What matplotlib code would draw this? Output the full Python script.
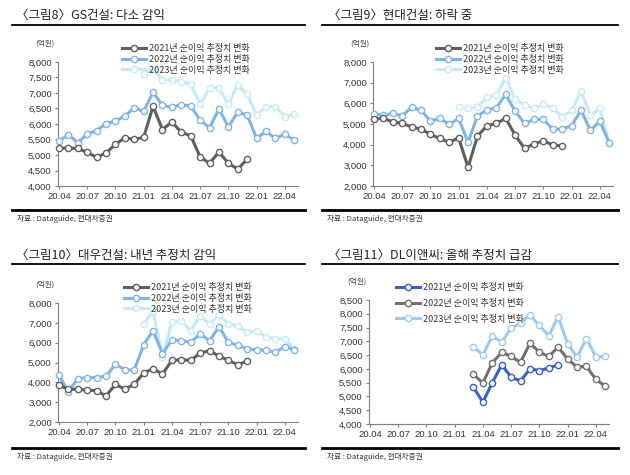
import matplotlib.pyplot as plt
import matplotlib.ticker as mticker
from matplotlib.lines import Line2D
import numpy as np

plt.rcParams['font.family'] = ['Noto Sans CJK KR', 'DejaVu Sans']

# month axis (20.04 ~ 22.05)
months = ['20.04', '20.05', '20.06', '20.07', '20.08', '20.09', '20.10', '20.11', '20.12',
          '21.01', '21.02', '21.03', '21.04', '21.05', '21.06', '21.07', '21.08', '21.09',
          '21.10', '21.11', '21.12', '22.01', '22.02', '22.03', '22.04', '22.05']
tick_months = ['20.04', '20.07', '20.10', '21.01', '21.04', '21.07', '21.10', '22.01', '22.04']
legend_labels = ['2021년 순이익 추정치 변화', '2022년 순이익 추정치 변화', '2023년 순이익 추정치 변화']

# GS건설 (억원)
gs_2021 = [5210, 5230, 5210, 5090, 4920, 5070, 5340, 5560, 5500, 5570, 6570,
           5820, 6070, 5730, 5620, 4940, 4730, 5100, 4730, 4550, 4860]          # 20.04~
gs_2022 = [5440, 5660, 5400, 5680, 5790, 6010, 6090, 6260, 6520, 6410, 7020,
           6600, 6540, 6620, 6580, 6130, 5870, 6490, 5910, 6380, 6290, 5540,
           5760, 5540, 5670, 5480]                                               # 20.04~
gs_2023 = [7600, 7800, 7420, 7420, 7365, 7280, 6640, 7170, 7170, 6640, 7260,
           6960, 6290, 6560, 6560, 6240, 6310]                                   # 21.01~

# 현대건설
hd_2021 = [5240, 5270, 5100, 5030, 4860, 4750, 4500, 4300, 4110, 4330, 2900,
           4420, 4910, 5030, 5270, 4460, 3820, 4030, 4190, 3980, 3940]          # 20.04~
hd_2022 = [5460, 5430, 5510, 5400, 5800, 5670, 5140, 5270, 4980, 5270, 4110,
           5400, 5670, 5790, 6430, 5620, 5030, 5220, 5220, 4750, 4750, 4910,
           5670, 4690, 5140, 4090]                                               # 20.04~
hd_2023 = [5800, 5750, 5800, 6310, 6400, 7230, 6230, 5910, 5750, 5950, 5780,
           5350, 5670, 6590, 5430, 5750, 4060]                                   # 21.01~

# 대우건설
dw_2021 = [3860, 3650, 3650, 3610, 3580, 3310, 3900, 3650, 3900, 4470, 4690,
           4410, 5110, 5140, 5110, 5470, 5600, 5320, 5110, 4890, 5070]          # 20.04~
dw_2022 = [4360, 3530, 4190, 4240, 4240, 4310, 4910, 4640, 4610, 5900, 6600,
           5440, 6140, 6100, 6020, 6440, 6100, 6800, 6020, 5860, 5690, 5640,
           5610, 5520, 5800, 5640]                                               # 20.04~
dw_2023 = [6940, 7600, 5300, 7020, 7100, 6600, 7350, 6940, 7400, 6940, 6850,
           6520, 6600, 6270, 6190, 6190, 5690]                                   # 21.01~

# DL이앤씨
dl_2021 = [5330, 4790, 5500, 6150, 5700, 5560, 6000, 5940, 6030, 6150]          # 21.03~
dl_2022 = [5800, 5490, 6220, 6600, 6450, 6240, 6930, 6610, 6450, 6790, 6360,
           6065, 6090, 5620, 5375]                                               # 21.03~
dl_2023 = [6800, 6510, 7190, 6975, 7480, 7660, 7960, 7580, 7200, 7890, 6920,
           6420, 7100, 6440, 6450]                                               # 21.03~

W, H = 630, 475
fig = plt.figure(figsize=(6.3, 4.75), dpi=100)


def box(l, t, r, b):
    return [l / W, 1 - b / H, (r - l) / W, (b - t) / H]


def hline(x1, x2, y, lw):
    fig.add_artist(Line2D([x1 / W, x2 / W], [1 - y / H, 1 - y / H], color='black',
                          lw=lw, transform=fig.transFigure))


def series(ax, vals, start, color, z):
    x = np.arange(len(vals)) + months.index(start)
    return ax.plot(x, vals, color=color, lw=2.2, marker='o', ms=4.5, mfc='white',
                   mec=color, mew=1.0, zorder=z, clip_on=False)[0]


def panel(rect, title, tx, ty, ylim, ystep, data, colors, leg_xy, leg_sp, unit_xy,
          line_x, line_y, src_y):
    ax = fig.add_axes(box(*rect))
    handles = []
    for (vals, start), c, z in zip(data, colors, [5, 4, 3]):
        handles.append(series(ax, vals, start, c, z))
    ax.set_xlim(-0.1, 25.4)
    ax.set_ylim(*ylim)
    ax.set_yticks(np.arange(ylim[0], ylim[1] + 1, ystep))
    ax.yaxis.set_major_formatter(mticker.StrMethodFormatter('{x:,.0f}'))
    ax.set_xticks([months.index(m) for m in tick_months])
    ax.set_xticklabels(tick_months)
    for s in ['top', 'right']:
        ax.spines[s].set_visible(False)
    for s in ['left', 'bottom']:
        ax.spines[s].set_color('#7f7f7f')
        ax.spines[s].set_linewidth(0.8)
    ax.tick_params(labelsize=6.8, length=2.5, width=0.8, color='#7f7f7f',
                   labelcolor='#333333', pad=2)
    for lab in ax.get_xticklabels() + ax.get_yticklabels():
        lab.set_fontfamily('Liberation Sans')
    ax.legend(handles, legend_labels, loc='upper left',
              bbox_to_anchor=(leg_xy[0] / W, 1 - leg_xy[1] / H),
              bbox_transform=fig.transFigure, frameon=False, fontsize=6.5,
              handlelength=2.7, handletextpad=0.3, labelspacing=leg_sp,
              borderpad=0, borderaxespad=0, labelcolor='#333333')
    fig.text(tx / W, 1 - ty / H, title, fontsize=9, va='center', ha='left', color='#222222')
    fig.text(unit_xy[0] / W, 1 - unit_xy[1] / H, '(억원)', fontsize=5.5, ha='center',
             va='center', color='#444444')
    hline(line_x[0], line_x[1], line_y, 1.3)
    hline(line_x[0], line_x[1], src_y, 2.0)
    fig.text((line_x[0] + 5) / W, 1 - (src_y + 9) / H, '자료 : Dataguide, 현대차증권',
             fontsize=5.5, ha='left', va='center', color='#333333')


gray = '#5f5f5f'
mid = '#80b4e6'
pale = '#c6ebf7'

panel((58, 62, 298, 186), '〈그림8〉GS건설: 다소 감익', 16, 15, (4000, 8000), 500,
      [(gs_2021, '20.04'), (gs_2022, '20.04'), (gs_2023, '21.01')],
      [gray, mid, pale], (122, 44), 0.2, (45, 44), (12, 305), 24.5, 210)

panel((373, 62, 613, 186), '〈그림9〉현대건설: 하락 중', 328, 15, (2000, 8000), 1000,
      [(hd_2021, '20.04'), (hd_2022, '20.04'), (hd_2023, '21.01')],
      [gray, mid, pale], (436, 44), 0.2, (360, 44), (322, 618), 24.5, 210)

panel((58, 303, 298, 422), '〈그림10〉대우건설: 내년 추정치 감익', 16, 255, (2000, 8000), 1000,
      [(dw_2021, '20.04'), (dw_2022, '20.04'), (dw_2023, '21.01')],
      [gray, mid, pale], (124, 283), 0.2, (45, 285), (12, 305), 264, 448)

panel((369, 300, 609, 424), '〈그림11〉DL이앤씨: 올해 추정치 급감', 328, 255, (4000, 8500), 500,
      [(dl_2021, '21.03'), (dl_2022, '21.03'), (dl_2023, '21.03')],
      ['#3761c9', '#707070', '#9dcaee'], (396, 283), 0.75, (357, 282), (322, 618), 264, 448)

fig.savefig('out.png', dpi=100)
